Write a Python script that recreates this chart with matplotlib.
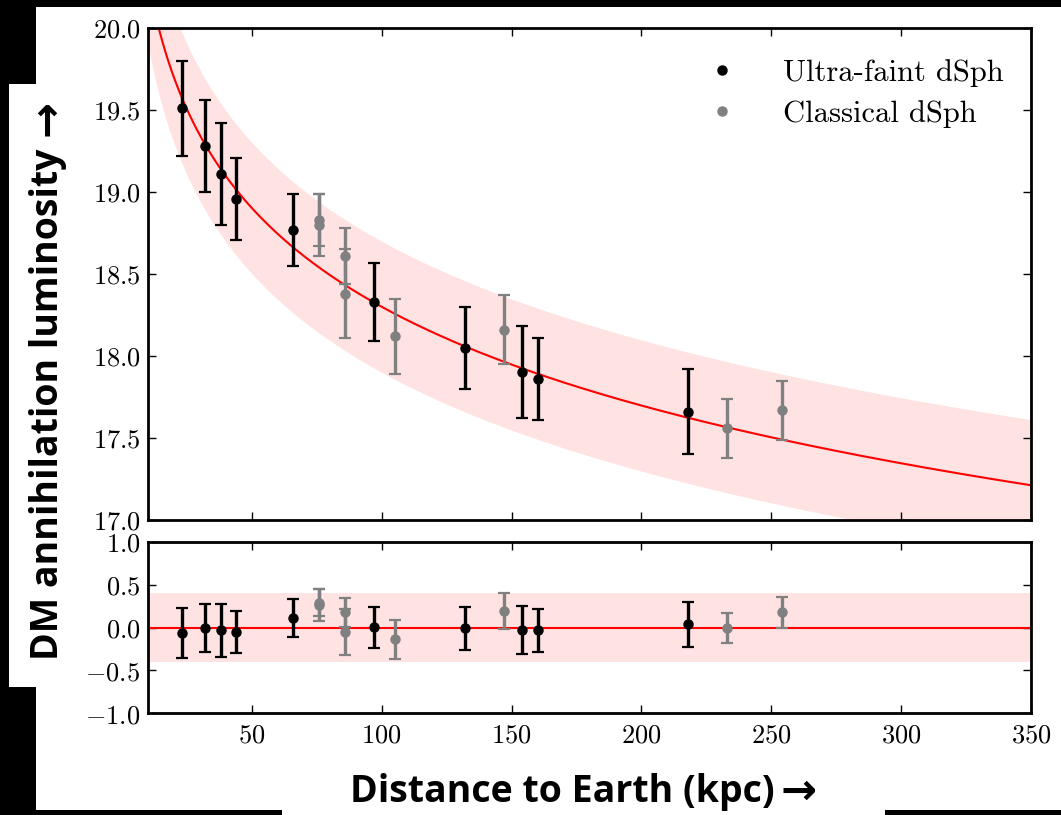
import numpy as np
import matplotlib
matplotlib.use("Agg")
import matplotlib.pyplot as plt
from matplotlib.ticker import FuncFormatter, MultipleLocator
from matplotlib.lines import Line2D
from matplotlib.patches import Rectangle

plt.rcParams['mathtext.fontset'] = 'cm'

# ---- data ----
uf_dist = [23, 32, 38, 44, 66, 97, 132, 154, 160, 218]
uf_lum = [19.51, 19.28, 19.11, 18.96, 18.77, 18.33, 18.05, 17.90, 17.86, 17.66]
uf_err = [0.29, 0.28, 0.31, 0.25, 0.22, 0.24, 0.25, 0.28, 0.25, 0.26]

cl_dist = [76, 76, 86, 86, 105, 147, 233, 254]
cl_lum = [18.83, 18.80, 18.61, 18.38, 18.12, 18.16, 17.56, 17.67]
cl_err = [0.16, 0.19, 0.17, 0.27, 0.23, 0.21, 0.18, 0.18]

fit_intercept = 22.30   # model: L = a + b*log10(d)
fit_slope = -2.0
band_half = 0.4

legend_labels = ["Ultra-faint dSph", "Classical dSph"]
xlabel = "Distance to Earth (kpc)"
ylabel = "DM annihilation luminosity"
arrow_x = "\u2192"
arrow_y = "\u2192"

W, H = 1061, 815
fig = plt.figure(figsize=(W / 100, H / 100), dpi=100)
fig.patch.set_facecolor('white')

def fx(px):
    return px / W

def fy(py):
    return 1 - py / H

ax1 = fig.add_axes([fx(148), fy(520), fx(1031) - fx(148), fy(28) - fy(520)])
ax2 = fig.add_axes([fx(148), fy(713), fx(1031) - fx(148), fy(542) - fy(713)])

def model(d):
    return fit_intercept + fit_slope * np.log10(d)

xx = np.linspace(10, 350, 600)
ax1.fill_between(xx, model(xx) - band_half, model(xx) + band_half,
                 color='red', alpha=0.11, lw=0, zorder=1)
ax1.plot(xx, model(xx), color='red', lw=1.5, zorder=2)

ax2.axhspan(-band_half, band_half, color='red', alpha=0.11, lw=0, zorder=1)
ax2.axhline(0, color='red', lw=1.5, zorder=2)

uf_d = np.array(uf_dist, float)
cl_d = np.array(cl_dist, float)
uf_res = np.array(uf_lum) - model(uf_d)
cl_res = np.array(cl_lum) - model(cl_d)

eb = dict(fmt='o', ms=6.5, elinewidth=2.4, capsize=4.5, capthick=1.6, zorder=3)
for ax, uy, cy in [(ax1, uf_lum, cl_lum), (ax2, uf_res, cl_res)]:
    ax.errorbar(cl_d, cy, yerr=cl_err, color='#808080', mec='#808080', **eb)
    ax.errorbar(uf_d, uy, yerr=uf_err, color='black', mec='black', **eb)

for ax in (ax1, ax2):
    ax.set_xlim(10, 350)
    ax.xaxis.set_major_locator(MultipleLocator(50))
    ax.tick_params(direction='in', top=True, right=True, length=6, width=1,
                   labelsize=19)
    ax.tick_params(axis='y', pad=5.5)
    ax.tick_params(axis='x', pad=7)
    for s in ax.spines.values():
        s.set_linewidth(2)

ax1.set_ylim(17.0, 20.0)
ax1.yaxis.set_major_locator(MultipleLocator(0.5))
ax1.yaxis.set_major_formatter(FuncFormatter(lambda v, p: r'$%.1f$' % v))
ax1.tick_params(labelbottom=False)

ax2.set_ylim(-1.0, 1.0)
ax2.yaxis.set_major_locator(MultipleLocator(0.5))
ax2.yaxis.set_major_formatter(FuncFormatter(lambda v, p: r'$%.1f$' % v))
ax2.xaxis.set_major_formatter(FuncFormatter(lambda v, p: r'$%d$' % v))
ax2.set_xticks([50, 100, 150, 200, 250, 300, 350])

handles = [Line2D([], [], marker='o', ls='none', color='black', ms=6.5),
           Line2D([], [], marker='o', ls='none', color='#808080', ms=6.5)]
ax1.legend(handles, legend_labels, loc='upper left',
           bbox_to_anchor=((691.5 - 148) / 883, 1 - (59 - 28) / 492),
           frameon=False, numpoints=1, handlelength=2.0, handletextpad=1.0,
           borderpad=0, borderaxespad=0, labelspacing=0.43,
           prop={'family': 'cmr10', 'size': 22})

lab_font = dict(fontweight='bold', family=['Open Sans', 'DejaVu Sans'])
fig.text(fx(350), fy(792), xlabel, ha='left', va='center', fontsize=27, **lab_font)
fig.text(fx(816), fy(792), arrow_x, ha='right', va='center', fontsize=31, **lab_font)
fig.text(fx(48), fy(660), ylabel, ha='center', va='bottom', rotation=90,
         fontsize=27, **lab_font)
fig.text(fx(48), fy(100), arrow_y, ha='center', va='top', rotation=90,
         fontsize=31, **lab_font)

# black screenshot borders
def rect(x0, y0, x1, y1):
    fig.patches.append(Rectangle((fx(x0), fy(y1)), fx(x1) - fx(x0), fy(y0) - fy(y1),
                                 transform=fig.transFigure, color='black',
                                 lw=0, zorder=10))

rect(0, 0, W, 7)
rect(0, 0, 36, 84)
rect(0, 0, 9, H)
rect(0, 687, 36, H)
rect(0, 810, 282, H)
rect(885, 810, W, H)

fig.savefig('out.png', dpi=100)
